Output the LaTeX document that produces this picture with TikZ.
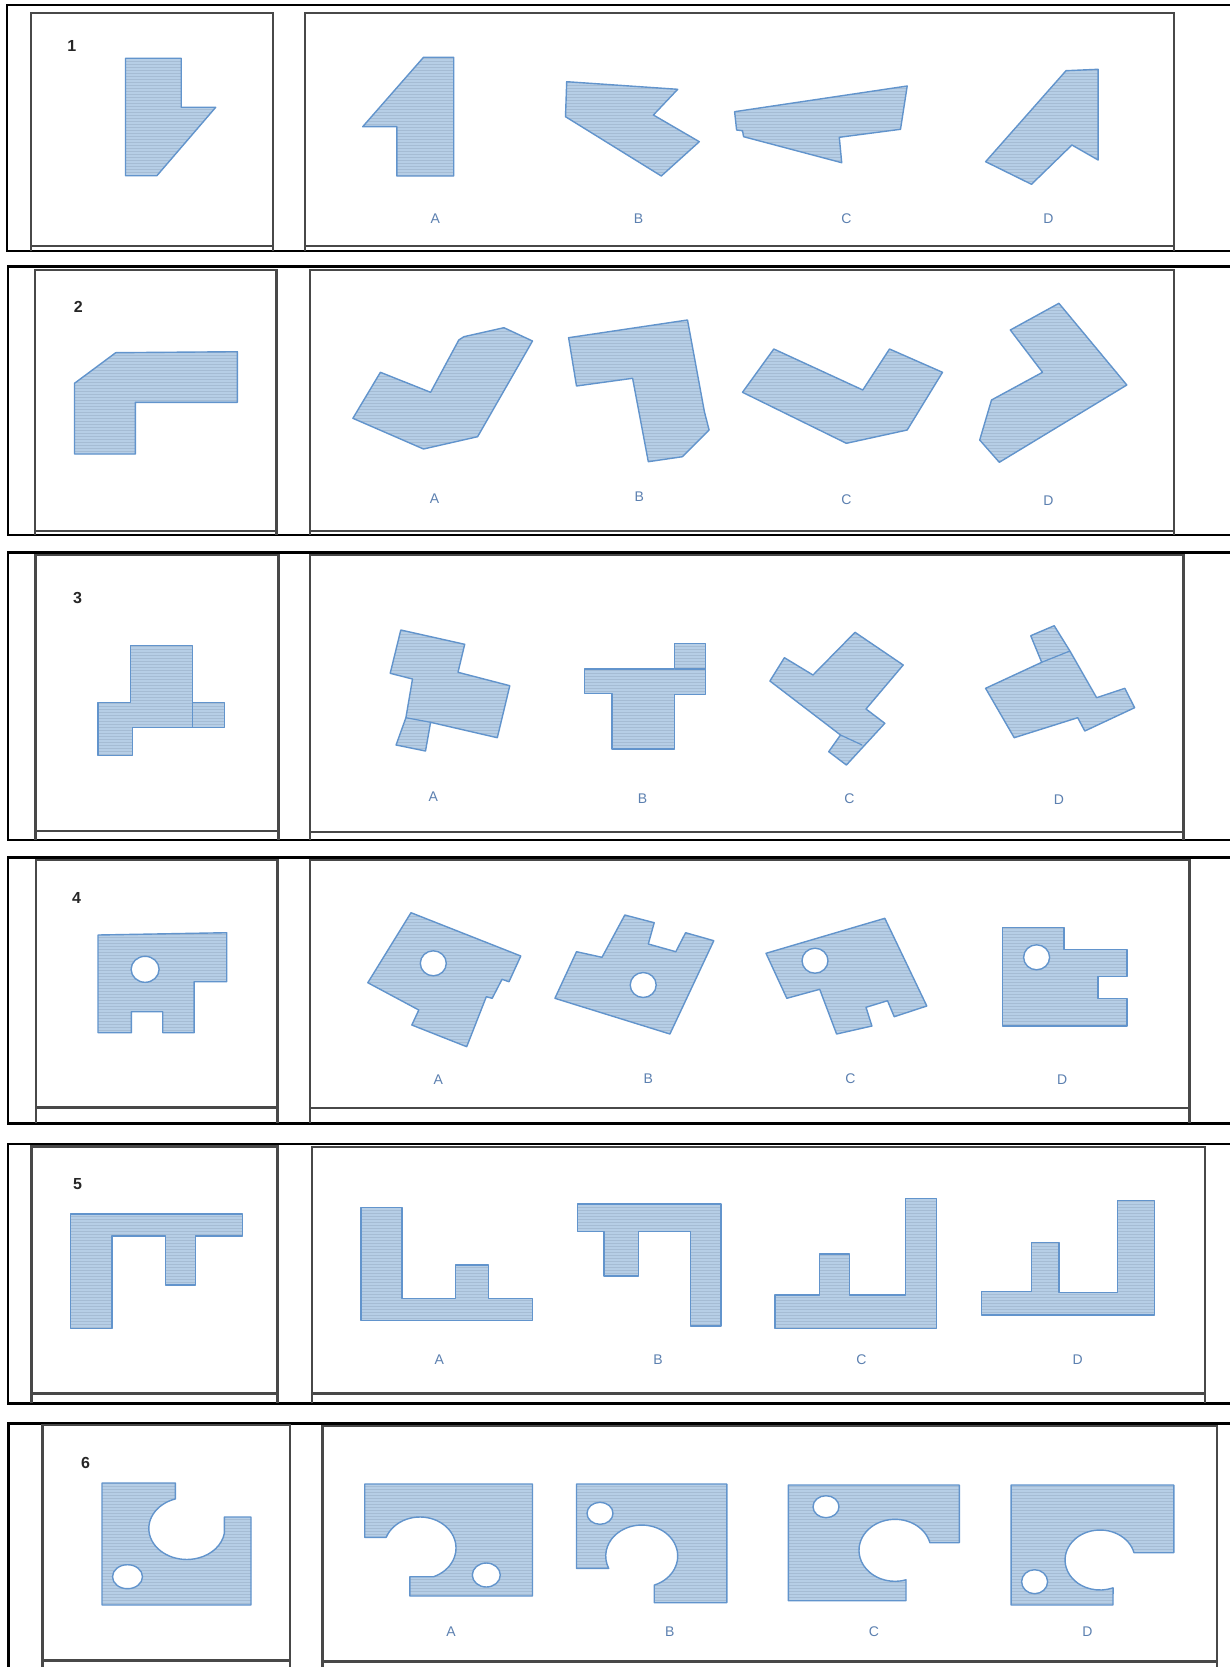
\documentclass[tikz,border=0pt]{standalone}
\usepackage{fontspec}
\setmainfont{Liberation Sans}
\usetikzlibrary{patterns}
\definecolor{shfill}{RGB}{182,206,230}
\definecolor{shdraw}{RGB}{98,148,204}
\definecolor{lblcol}{RGB}{92,128,176}
\definecolor{panelcol}{RGB}{72,72,72}
\definecolor{hatchcol}{RGB}{165,188,212}
\tikzset{
  piece/.style={preaction={fill=shfill}, pattern=horizontal lines, pattern color=hatchcol, draw=shdraw, line width=1.4pt, line join=round},
  holecut/.style={fill=white, draw=shdraw, line width=1.4pt},
  innerline/.style={draw=shdraw, line width=1.2pt},
  frameline/.style={draw=black, line width=2.6pt},
  panelline/.style={draw=panelcol, line width=2.5pt},
  optlbl/.style={text=lblcol, font=\fontsize{14}{16}\selectfont, inner sep=0pt},
  qnum/.style={text=black!85, font=\fontsize{16}{18}\selectfont\bfseries, inner sep=0pt},
}
\begin{document}
\begin{tikzpicture}[x=1pt,y=-1pt]
\useasboundingbox (0,0) rectangle (1230,1667);
\fill[white] (0,0) rectangle (1230,1667);

% ---------- frames and panels ----------
% row 1
\draw[frameline] (1230,5) -- (7,5) -- (7,251) -- (1230,251);
\draw[panelline] (31,251) -- (31,13) -- (273,13) -- (273,251);
\draw[panelline] (31,246) -- (273,246);
\draw[panelline] (305,251) -- (305,13) -- (1174,13) -- (1174,251);
\draw[panelline] (305,246) -- (1174,246);
% row 2
\draw[frameline] (1230,266.7) -- (8,266.7) -- (8,535) -- (1230,535);
\draw[panelline] (35,535) -- (35,270) -- (276.5,270) -- (276.5,535);
\draw[panelline] (35,531) -- (276.5,531);
\draw[panelline] (310,535) -- (310,270) -- (1174,270) -- (1174,535);
\draw[panelline] (310,531) -- (1174,531);
% row 3
\draw[frameline] (1230,552.3) -- (8,552.3) -- (8,840) -- (1230,840);
\draw[panelline] (35.3,840) -- (35.3,555) -- (278.4,555) -- (278.4,840);
\draw[panelline] (35.3,831) -- (278.4,831);
\draw[panelline] (309.8,840) -- (309.8,555) -- (1183.6,555) -- (1183.6,840);
\draw[panelline] (309.8,832) -- (1183.6,832);
% row 4
\draw[frameline] (1230,857.3) -- (8,857.3) -- (8,1123.3) -- (1230,1123.3);
\draw[panelline] (36,1123.3) -- (36,860) -- (277.6,860) -- (277.6,1123.3);
\draw[panelline] (36,1107.3) -- (277.6,1107.3);
\draw[panelline] (309.8,1123.3) -- (309.8,860) -- (1189.5,860) -- (1189.5,1123.3);
\draw[panelline] (309.8,1108) -- (1189.5,1108);
% row 5
\draw[frameline] (1230,1144) -- (8,1144) -- (8,1403.3) -- (1230,1403.3);
\draw[panelline] (31.4,1403.3) -- (31.4,1146.7) -- (277.6,1146.7) -- (277.6,1403.3);
\draw[panelline] (31.4,1393.3) -- (277.6,1393.3);
\draw[panelline] (311.8,1403.3) -- (311.8,1147) -- (1205,1147) -- (1205,1403.3);
\draw[panelline] (311.8,1393.3) -- (1205,1393.3);
% row 6
\draw[frameline] (1230,1423.3) -- (8.6,1423.3) -- (8.6,1667);
\draw[panelline] (42.4,1667) -- (42.4,1425) -- (290.2,1425) -- (290.2,1667);
\draw[panelline] (42.4,1660.7) -- (290.2,1660.7);
\draw[panelline] (322.4,1667) -- (322.4,1426) -- (1217,1426) -- (1217,1667);
\draw[panelline] (322.4,1661.7) -- (1217,1661.7);

% ---------- numbers ----------
\node[qnum] (n1) at (71.7,45.5) {1};
\node[qnum] (n2) at (78.4,306.7) {2};
\node[qnum] (n3) at (77.6,597.7) {3};
\node[qnum] (n4) at (76.5,898.3) {4};
\node[qnum] (n5) at (77.6,1184) {5};
\node[qnum] (n6) at (85.5,1463.3) {6};

% ---------- option labels ----------
\node[optlbl] (r1A) at (435.3,218.3) {A};
\node[optlbl] (r1B) at (638.5,218.3) {B};
\node[optlbl] (r1C) at (846.4,218.3) {C};
\node[optlbl] (r1D) at (1048.3,218.3) {D};
\node[optlbl] (r2A) at (434.5,498.3) {A};
\node[optlbl] (r2B) at (639.3,496.7) {B};
\node[optlbl] (r2C) at (846.4,500) {C};
\node[optlbl] (r2D) at (1048.3,501) {D};
\node[optlbl] (r3A) at (433.3,796.7) {A};
\node[optlbl] (r3B) at (642.5,798.3) {B};
\node[optlbl] (r3C) at (849.5,798.3) {C};
\node[optlbl] (r3D) at (1058.9,800) {D};
\node[optlbl] (r4A) at (438.4,1079.3) {A};
\node[optlbl] (r4B) at (648.3,1078.3) {B};
\node[optlbl] (r4C) at (850.3,1078.3) {C};
\node[optlbl] (r4D) at (1062.1,1079.3) {D};
\node[optlbl] (r5A) at (439.2,1359.3) {A};
\node[optlbl] (r5B) at (658.1,1359.3) {B};
\node[optlbl] (r5C) at (861.3,1359.3) {C};
\node[optlbl] (r5D) at (1077.7,1360) {D};
\node[optlbl] (r6A) at (451,1631.7) {A};
\node[optlbl] (r6B) at (669.9,1631.7) {B};
\node[optlbl] (r6C) at (873.8,1631.7) {C};
\node[optlbl] (r6D) at (1087.5,1631.7) {D};

% ---------- row 1 shapes ----------
\draw[piece] (125.5,58.3) -- (181.2,58.3) -- (181.2,107.3) -- (215.7,107.3) -- (156.9,175.7) -- (125.5,175.7) -- cycle;
\draw[piece] (423.5,57.3) -- (453.7,57.3) -- (453.7,176) -- (396.9,176) -- (396.9,126.7) -- (362.7,126.7) -- cycle;
\draw[piece] (566.7,81.7) -- (677.7,89.3) -- (653.4,115) -- (699.3,141.7) -- (661.3,176) -- (565.5,116.7) -- cycle;
\draw[piece] (734.6,111.7) -- (907.2,86) -- (900.5,129.3) -- (839.3,137.3) -- (841.7,162.7) -- (743.6,136.7) -- (742.5,130.7) -- (736.6,130) -- cycle;
\draw[piece] (1066,70.7) -- (1098.1,69.3) -- (1098.1,160) -- (1071.9,145) -- (1031.5,184.3) -- (985.6,161.7) -- cycle;

% ---------- row 2 shapes ----------
\draw[piece] (115.7,352.7) -- (237.3,351.7) -- (237.3,402.3) -- (135.3,402.3) -- (135.3,454) -- (74.5,454) -- (74.5,383.3) -- cycle;
\draw[piece] (463.9,336.7) -- (503.9,327.7) -- (532.5,341) -- (477.6,436.7) -- (423.5,449) -- (352.9,418.3) -- (380.4,372.3) -- (430.6,392.3) -- (458.8,340) -- cycle;
\draw[piece] (568.6,337.7) -- (687.5,320) -- (704.4,411.7) -- (709.1,430) -- (682.5,456.7) -- (648.3,461.7) -- (632.6,378.3) -- (576.5,386) -- cycle;
\draw[piece] (773.8,349) -- (862.8,390) -- (889.5,349) -- (942.5,372.3) -- (907.2,430) -- (846.4,443.3) -- (742.5,392.3) -- cycle;
\draw[piece] (1058.9,303.3) -- (1126.8,385) -- (999.3,462.3) -- (979.7,440) -- (991.5,400) -- (1042.5,372.3) -- (1010.3,330) -- cycle;

% ---------- row 3 shapes ----------
\draw[piece] (130.6,645.7) -- (192.2,645.7) -- (192.2,702.3) -- (224.3,702.3) -- (224.3,727.7) -- (132.2,727.7) -- (132.2,755.7) -- (98,755.7) -- (98,702.3) -- (130.6,702.3) -- cycle;
\draw[innerline] (192.2,702.3) -- (192.2,727.7);
\draw[piece] (400.8,630) -- (464.7,644.3) -- (458,672.3) -- (509.8,685.7) -- (497.3,737.7) -- (430.6,722.3) -- (425.5,751) -- (396.1,745) -- (405.9,717.7) -- (412.5,679) -- (390.2,673.3) -- cycle;
\draw[innerline] (405.9,717.7) -- (430.6,722.3);
\draw[piece] (584.3,669) -- (674.6,669) -- (674.6,643.3) -- (705.2,643.3) -- (705.2,694.3) -- (674.6,694.3) -- (674.6,749) -- (611.8,749) -- (611.8,693.3) -- (584.3,693.3) -- cycle;
\draw[innerline] (674.6,669) -- (705.2,669);
\draw[piece] (855,632.3) -- (903.2,665) -- (866,709) -- (884.8,723.3) -- (846.4,765) -- (828.7,751.7) -- (840.5,735) -- (769.9,681) -- (784.4,657.7) -- (813,675) -- cycle;
\draw[innerline] (840.5,735) -- (862.1,745);
\draw[piece] (1030.7,635.7) -- (1054.2,625.7) -- (1069.9,651) -- (1096.6,697.7) -- (1124.8,688.3) -- (1134.6,707.7) -- (1084.8,731) -- (1077.7,717.7) -- (1014.2,737.7) -- (985.6,688.3) -- (1041.7,662.3) -- cycle;
\draw[innerline] (1041.7,662.3) -- (1069.9,651);

% ---------- row 4 shapes ----------
\draw[piece] (98,935) -- (226.7,932.7) -- (226.7,981.7) -- (194.1,981.7) -- (194.1,1032.7) -- (162.7,1032.7) -- (162.7,1011.7) -- (131.4,1011.7) -- (131.4,1032.7) -- (98,1032.7) -- cycle;
\draw[holecut] (145.1,969.3) ellipse[x radius=14, y radius=13];
\draw[piece] (411,912.7) -- (520.8,956) -- (509,981.7) -- (502,979.3) -- (492.2,998.3) -- (486.3,996.7) -- (466.7,1046.7) -- (411.8,1025) -- (418.8,1010) -- (367.8,982.7) -- cycle;
\draw[holecut] (433.3,963.3) ellipse[x radius=13, y radius=12.5];
\draw[piece] (624.8,915) -- (654.2,922.7) -- (648.3,944) -- (675.8,951.7) -- (685.6,932.7) -- (713.8,940.7) -- (669.9,1034) -- (554.9,998.3) -- (576.5,951.7) -- (602,957.3) -- cycle;
\draw[holecut] (643.2,985) ellipse[x radius=13, y radius=12.5];
\draw[piece] (766,953.3) -- (884.8,918.3) -- (926.8,1006) -- (894.2,1016.7) -- (887.5,1000.7) -- (866,1007.3) -- (871.9,1026) -- (836.6,1034) -- (819.7,989.3) -- (786.8,998.3) -- cycle;
\draw[holecut] (815,960.7) ellipse[x radius=13, y radius=12.5];
\draw[piece] (1002.5,927.3) -- (1064,927.3) -- (1064,949.3) -- (1126.8,949.3) -- (1126.8,976.7) -- (1098.1,976.7) -- (1098.1,998.3) -- (1126.8,998.3) -- (1126.8,1026) -- (1002.5,1026) -- cycle;
\draw[holecut] (1036.6,957.3) ellipse[x radius=13, y radius=12.5];

% ---------- row 5 shapes ----------
\draw[piece] (70.6,1214) -- (242.4,1214) -- (242.4,1236) -- (195.3,1236) -- (195.3,1285) -- (165.5,1285) -- (165.5,1236) -- (111.8,1236) -- (111.8,1328.3) -- (70.6,1328.3) -- cycle;
\draw[piece] (360.8,1207.3) -- (402,1207.3) -- (402,1298.3) -- (455.7,1298.3) -- (455.7,1265) -- (488.2,1265) -- (488.2,1298.3) -- (532.5,1298.3) -- (532.5,1320.7) -- (360.8,1320.7) -- cycle;
\draw[piece] (577.3,1204) -- (720.9,1204) -- (720.9,1326) -- (690.3,1326) -- (690.3,1231.7) -- (638.5,1231.7) -- (638.5,1276) -- (603.9,1276) -- (603.9,1231.7) -- (577.3,1231.7) -- cycle;
\draw[piece] (775,1295) -- (819.7,1295) -- (819.7,1254) -- (849.5,1254) -- (849.5,1295) -- (905.2,1295) -- (905.2,1198.3) -- (936.6,1198.3) -- (936.6,1328.3) -- (775,1328.3) -- cycle;
\draw[piece] (981.7,1291.7) -- (1031.5,1291.7) -- (1031.5,1242.7) -- (1058.9,1242.7) -- (1058.9,1292.7) -- (1117.7,1292.7) -- (1117.7,1200.7) -- (1154.2,1200.7) -- (1154.2,1315) -- (981.7,1315) -- cycle;

% ---------- row 6 shapes ----------
\draw[piece] (102,1483) -- (175.4,1483) -- (175.4,1498.9) arc[start angle=252.5, end angle=9.3, x radius=38, y radius=31] -- (224.3,1517) -- (251,1517) -- (251,1605) -- (102,1605) -- cycle;
\draw[holecut] (127.5,1576.7) ellipse[x radius=15, y radius=12];
\draw[piece] (364.7,1484) -- (532.5,1484) -- (532.5,1596) -- (409.8,1596) -- (409.8,1576.7) -- (433.6,1576.7) arc[start angle=67.8, end angle=-159.8, x radius=36, y radius=31] -- (364.7,1537.3) -- cycle;
\draw[holecut] (486.3,1575) ellipse[x radius=14, y radius=12];
\draw[piece] (576.5,1484) -- (726.8,1484) -- (726.8,1602.7) -- (654.2,1602.7) -- (654.2,1585.1) arc[start angle=69.7, end angle=-203.4, x radius=36, y radius=31] -- (576.5,1568.3) -- cycle;
\draw[holecut] (600,1513.3) ellipse[x radius=13, y radius=11];
\draw[piece] (788.3,1485) -- (959.3,1485) -- (959.3,1542.7) -- (929.9,1542.7) arc[start angle=-14.2, end angle=-287.8, x radius=36, y radius=31] -- (906,1600.7) -- (788.3,1600.7) -- cycle;
\draw[holecut] (826,1506.7) ellipse[x radius=13, y radius=11];
\draw[piece] (1011.1,1485) -- (1173.8,1485) -- (1173.8,1552.7) -- (1134,1552.7) arc[start angle=-14.1, end angle=-291.8, x radius=35, y radius=30] -- (1113,1605) -- (1011.1,1605) -- cycle;
\draw[holecut] (1034.6,1581.7) ellipse[x radius=13, y radius=12];
\end{tikzpicture}
\end{document}
